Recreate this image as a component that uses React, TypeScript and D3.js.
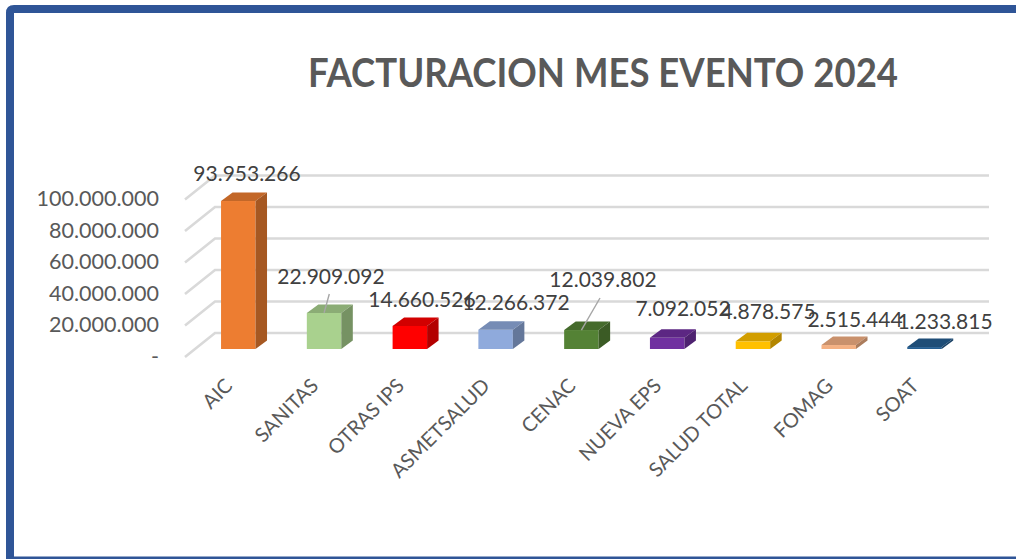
import React from "react";
import * as d3 from "d3";

const categories = ["AIC", "SANITAS", "OTRAS IPS", "ASMETSALUD", "CENAC", "NUEVA EPS", "SALUD TOTAL", "FOMAG", "SOAT"];
const values = [93953266, 22909092, 14660526, 12266372, 12039802, 7092052, 4878575, 2515444, 1233815];
const valueLabels = ["93.953.266", "22.909.092", "14.660.526", "12.266.372", "12.039.802", "7.092.052", "4.878.575", "2.515.444", "1.233.815"];
const colors = ["#ED7D31", "#A9D18E", "#FF0000", "#8FAADC", "#548235", "#7030A0", "#FFC000", "#F4B183", "#255E91"];
const tickValues = [0, 20000000, 40000000, 60000000, 80000000, 100000000];
const tickLabels = ["-", "20.000.000", "40.000.000", "60.000.000", "80.000.000", "100.000.000"];

const labelCenters: [number, number][] = [
  [247, 174], [331, 277], [422, 300], [516, 303], [603, 280], [683, 309], [768, 312], [855, 320], [945, 322],
];
const leaders: Record<number, [number, number]> = { 1: [329.3, 294], 4: [600, 298] };

const font = "Lato, Carlito, 'Open Sans', sans-serif";
const y = d3.scaleLinear().domain([0, 100000000]).range([349, 191.5]);
const x = d3.scaleBand<string>().domain(categories).range([195.4, 967.4]).paddingInner(0.598).paddingOuter(0.299);
const dx = 11.5;
const dy = 8.5;

export default function App() {
  const bw = x.bandwidth();
  return (
    <svg width={1016} height={559} style={{ position: "absolute", left: 0, top: 0, background: "#fff" }}>
      <path d="M10 559 V13 Q10 9 14 9 H1016" fill="none" stroke="#2F5597" strokeWidth={8} />
      <rect x={6} y={556.5} width={1010} height={2.5} fill="#2F5597" />
      <text x={308} y={87} textLength={590} lengthAdjust="spacingAndGlyphs" fontFamily={font} fontWeight={700} fontSize={39.5} fill="#595959">
        FACTURACION MES EVENTO 2024
      </text>
      {tickValues.map((t) => (
        <g key={t} stroke="#D9D9D9" strokeWidth={2.6} fill="none">
          <path d={`M185 ${y(t) + 8} L215 ${y(t) - 16} H989`} />
        </g>
      ))}
      {tickValues.map((t, i) => (
        <text key={t} x={159} y={y(t) + 14.5} textAnchor="end" fontFamily={font} fontSize={21.5} fill="#595959">
          {tickLabels[i]}
        </text>
      ))}
      {categories.map((c, i) => {
        const x0 = x(c)!;
        const x1 = x0 + bw;
        const top = y(values[i]);
        const base = y(0);
        const col = d3.color(colors[i])!;
        return (
          <g key={c}>
            <rect x={x0} y={top} width={bw} height={base - top} fill={colors[i]} />
            <path d={`M${x0} ${top} l${dx} ${-dy} h${bw} l${-dx} ${dy} Z`} fill={col.darker(0.55).formatHex()} />
            <path d={`M${x1} ${top} l${dx} ${-dy} V${base - dy} L${x1} ${base} Z`} fill={col.darker(1).formatHex()} />
          </g>
        );
      })}
      {categories.map((c, i) => {
        const lead = leaders[i];
        return lead ? (
          <line
            key={c}
            x1={lead[0]}
            y1={lead[1]}
            x2={x(c)! + bw / 2}
            y2={y(values[i])}
            stroke="#A6A6A6"
            strokeWidth={1.4}
          />
        ) : null;
      })}
      {valueLabels.map((l, i) => (
        <text key={l} x={labelCenters[i][0]} y={labelCenters[i][1] + 7} textAnchor="middle" fontFamily={font} fontSize={21} fill="#404040">
          {l}
        </text>
      ))}
      {categories.map((c) => {
        const px = x(c)! + bw / 2 - 4.5;
        return (
          <text
            key={c}
            transform={`translate(${px} 387) rotate(-45)`}
            textAnchor="end"
            fontFamily={font}
            fontSize={20}
            fill="#595959"
          >
            {c}
          </text>
        );
      })}
    </svg>
  );
}
